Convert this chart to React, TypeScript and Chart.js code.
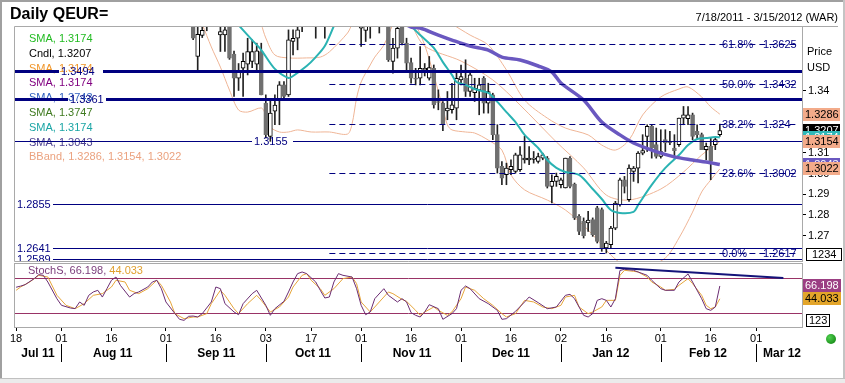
import React, { useEffect, useRef } from "react";
import { Chart, registerables } from "chart.js";

Chart.register(...registerables);

const FONT = '"Liberation Sans", Arial, Helvetica, sans-serif';

// ---- axes (x = weekday index, 0 = Mon 18 Jul 2011) ----
const X_MIN = -0.24;
const X_MAX = 173.1;
const PRICE_MIN = 1.25783;
const PRICE_MAX = 1.3706;
const STOCH_MIN = -4.8;
const STOCH_MAX = 104.2;

const priceTickValues = [1.26, 1.27, 1.28, 1.29, 1.3, 1.31, 1.34];
const dayTicks = [0, 10, 21, 33, 44, 55, 65, 76, 87, 98, 109, 120, 130, 142, 153, 163];
const dayTickLabels = ["18", "01", "16", "01", "16", "03", "17", "01", "16", "01", "16", "02", "16", "01", "16", "01"];
const monthLabels = ["Jul 11", "Aug 11", "Sep 11", "Oct 11", "Nov 11", "Dec 11", "Jan 12", "Feb 12", "Mar 12"];
const monthLabelPos = [4.8, 21.3, 44.1, 65.4, 87.2, 109, 131, 152.4, 168.7];
const monthStarts = [10, 33, 55, 76, 98, 120, 142, 163];

// ---- candles ----
const candleDay = [39, 40, 41, 42, 45, 46, 47, 48, 49, 50, 51, 52, 53, 54, 55, 56, 57, 58, 59, 60, 61, 62, 63, 66, 68, 76, 77, 78, 80, 82, 83, 84, 85, 86, 87, 88, 89, 90, 91, 92, 93, 94, 95, 96, 97, 98, 99, 100, 101, 102, 103, 104, 105, 106, 107, 108, 109, 110, 111, 112, 113, 114, 115, 116, 117, 118, 119, 120, 121, 122, 123, 124, 125, 126, 127, 128, 129, 130, 131, 132, 133, 134, 135, 136, 137, 138, 139, 140, 141, 142, 143, 144, 145, 146, 147, 148, 149, 150, 151, 152, 153, 154, 155];
const candleOpen = [1.3740, 1.3564, 1.3665, 1.3760, 1.3668, 1.3668, 1.3730, 1.3575, 1.3459, 1.3507,
  1.3527, 1.3540, 1.3527, 1.3588, 1.3339, 1.3179, 1.3300, 1.3355, 1.3427, 1.3379,
  1.3636, 1.3652, 1.3740, 1.3790, 1.3780, 1.3700, 1.3690, 1.3740, 1.3790, 1.3810,
  1.3540, 1.3604, 1.3740, 1.3628, 1.3535, 1.3460, 1.3459, 1.3499, 1.3459, 1.3507,
  1.3345, 1.3339, 1.3302, 1.3307, 1.3315, 1.3451, 1.3459, 1.3395, 1.3390, 1.3403,
  1.3459, 1.3339, 1.3379, 1.3187, 1.3034, 1.2994, 1.3018, 1.3010, 1.3018, 1.3066,
  1.3066, 1.3068, 1.3058, 1.3074, 1.3074, 1.2938, 1.2962, 1.2946, 1.2930, 1.3074,
  1.2949, 1.2794, 1.2770, 1.2762, 1.2778, 1.2834, 1.2826, 1.2641, 1.2657, 1.2737,
  1.2850, 1.2970, 1.2874, 1.3010, 1.3026, 1.3098, 1.3179, 1.3227, 1.3139, 1.3082,
  1.3163, 1.3150, 1.3123, 1.3139, 1.3267, 1.3264, 1.3283, 1.3203, 1.3187, 1.3115,
  1.3131, 1.3139, 1.3187];
const candleHigh = [1.3760, 1.3720, 1.3720, 1.3790, 1.3715, 1.3720, 1.3750, 1.3590, 1.3530, 1.3580,
  1.3652, 1.3644, 1.3628, 1.3628, 1.3379, 1.3355, 1.3379, 1.3443, 1.3443, 1.3692,
  1.3692, 1.3720, 1.3790, 1.3820, 1.3830, 1.3790, 1.3800, 1.3800, 1.3820, 1.3830,
  1.3652, 1.3720, 1.3760, 1.3652, 1.3556, 1.3507, 1.3612, 1.3530, 1.3564, 1.3523,
  1.3403, 1.3347, 1.3395, 1.3435, 1.3483, 1.3523, 1.3548, 1.3483, 1.3459, 1.3459,
  1.3467, 1.3435, 1.3387, 1.3235, 1.3058, 1.3050, 1.3066, 1.3098, 1.3130, 1.3179,
  1.3130, 1.3106, 1.3098, 1.3098, 1.3082, 1.2994, 1.3002, 1.2978, 1.3074, 1.3082,
  1.2954, 1.2802, 1.2786, 1.2818, 1.2786, 1.2842, 1.2834, 1.2673, 1.2745, 1.2866,
  1.2978, 1.2986, 1.3042, 1.3034, 1.3106, 1.3187, 1.3235, 1.3235, 1.3219, 1.3211,
  1.3211, 1.3203, 1.3187, 1.3267, 1.3323, 1.3323, 1.3291, 1.3235, 1.3195, 1.3147,
  1.3171, 1.3171, 1.3238];
const candleLow = [1.3645, 1.3499, 1.3655, 1.3688, 1.3588, 1.3588, 1.3550, 1.3371, 1.3400, 1.3371,
  1.3475, 1.3510, 1.3500, 1.3379, 1.3171, 1.3155, 1.3235, 1.3235, 1.3360, 1.3371,
  1.3572, 1.3596, 1.3684, 1.3652, 1.3652, 1.3612, 1.3636, 1.3652, 1.3677, 1.3540,
  1.3483, 1.3556, 1.3620, 1.3499, 1.3435, 1.3427, 1.3427, 1.3470, 1.3450, 1.3315,
  1.3307, 1.3206, 1.3259, 1.3291, 1.3259, 1.3427, 1.3371, 1.3371, 1.3347, 1.3283,
  1.3291, 1.3291, 1.3163, 1.3002, 1.2946, 1.2946, 1.2994, 1.3002, 1.3010, 1.3050,
  1.3042, 1.3050, 1.3050, 1.3066, 1.2930, 1.2858, 1.2938, 1.2930, 1.2930, 1.2930,
  1.2778, 1.2705, 1.2689, 1.2721, 1.2697, 1.2665, 1.2625, 1.2617, 1.2641, 1.2729,
  1.2842, 1.2906, 1.2866, 1.2962, 1.2954, 1.3090, 1.3106, 1.3074, 1.3074, 1.3074,
  1.3106, 1.3139, 1.3074, 1.3131, 1.3235, 1.3235, 1.3163, 1.3163, 1.3115, 1.3066,
  1.2970, 1.3115, 1.3179];
const candleClose = [1.3652, 1.3671, 1.3690, 1.3720, 1.3684, 1.3692, 1.3556, 1.3459, 1.3491, 1.3540,
  1.3588, 1.3588, 1.3591, 1.3379, 1.3187, 1.3291, 1.3330, 1.3427, 1.3371, 1.3644,
  1.3652, 1.3692, 1.3760, 1.3740, 1.3760, 1.3760, 1.3740, 1.3780, 1.3760, 1.3548,
  1.3604, 1.3700, 1.3628, 1.3532, 1.3459, 1.3455, 1.3507, 1.3507, 1.3510, 1.3331,
  1.3342, 1.3235, 1.3315, 1.3331, 1.3459, 1.3467, 1.3395, 1.3475, 1.3411, 1.3427,
  1.3339, 1.3395, 1.3187, 1.3026, 1.2978, 1.3026, 1.3034, 1.3090, 1.3090, 1.3074,
  1.3074, 1.3074, 1.3082, 1.3090, 1.2938, 1.2962, 1.2986, 1.2970, 1.3074, 1.2938,
  1.2786, 1.2721, 1.2700, 1.2775, 1.2705, 1.2673, 1.2641, 1.2665, 1.2737, 1.2858,
  1.2970, 1.2938, 1.3026, 1.3026, 1.3098, 1.3110, 1.3227, 1.3123, 1.3082, 1.3106,
  1.3147, 1.3155, 1.3110, 1.3267, 1.3283, 1.3283, 1.3179, 1.3187, 1.3115, 1.3131,
  1.3058, 1.3163, 1.3207];

// ---- moving averages / bands (null = off the top of the chart) ----
const smaFastDay = [49, 52, 54, 57, 60, 61, 64, 66, 68, 70, 78, 87, 89, 92, 94, 96, 97, 99, 101, 104, 106, 108, 110, 112, 115, 117, 119, 121, 124, 127, 129, 131, 133, 136, 137, 140, 143, 146, 148, 150, 152, 154, 155];
const smaFastVal = [1.3715, 1.3643, 1.3595, 1.3504, 1.3460, 1.3470, 1.3518, 1.3561, 1.3614, 1.3711, null, 1.3711, 1.3667, 1.3605, 1.3537, 1.3475, 1.3441, 1.3427, 1.3407, 1.3388, 1.3345, 1.3296, 1.3248, 1.3186, 1.3123, 1.3065, 1.3027, 1.3007, 1.2993, 1.2925, 1.2877, 1.2824, 1.2810, 1.2815, 1.2848, 1.2945, 1.3027, 1.3089, 1.3137, 1.3166, 1.3171, 1.3176, 1.3174];
const smaSlowDay = [85, 87, 89, 93, 96, 100, 104, 107, 111, 115, 118, 120, 125, 129, 133, 136, 140, 145, 149, 152, 155];
const smaSlowVal = [1.3730, 1.3706, 1.3701, 1.3667, 1.3643, 1.3614, 1.3595, 1.3561, 1.3547, 1.3518, 1.3489, 1.3436, 1.3354, 1.3248, 1.3186, 1.3147, 1.3113, 1.3080, 1.3065, 1.3055, 1.3043];
const bbUpperDay = [96, 100, 104, 108, 112, 117, 121, 126, 129, 132, 135, 138, 142, 146, 148, 151, 153, 155];
const bbUpperVal = [1.3720, 1.3667, 1.3619, 1.3499, 1.3354, 1.3267, 1.3219, 1.3186, 1.3137, 1.3113, 1.3161, 1.3282, 1.3369, 1.3407, 1.3417, 1.3369, 1.3321, 1.3286];
const bbMidDay = [54, 55, 57, 60, 64, 67, 69, 73, 74, 80, 87, 90, 98, 105, 111, 119, 125, 130, 135, 142, 147, 151, 155];
const bbMidVal = [1.3720, 1.3653, 1.3571, 1.3557, 1.3557, 1.3561, 1.3586, 1.3677, 1.3720, null, 1.3720, 1.3614, 1.3542, 1.3451, 1.3330, 1.3152, 1.3027, 1.2896, 1.2872, 1.2925, 1.3007, 1.3089, 1.3154];
const bbLowDay = [41, 43, 45, 47, 49, 51, 54, 55, 56, 58, 60, 62, 65, 69, 73, 74, 75, 76, 78, 79, 81, 83, 85, 88, 90, 92, 94, 95, 96, 99, 101, 104, 107, 109, 112, 117, 121, 126, 131, 134, 138, 143, 146, 149, 151, 153, 155];
const bbLowVal = [1.3720, 1.3610, 1.3513, 1.3402, 1.3306, 1.3296, 1.3316, 1.3282, 1.3224, 1.3200, 1.3200, 1.3210, 1.3200, 1.3200, 1.3190, 1.3239, 1.3364, 1.3441, 1.3523, 1.3561, 1.3619, 1.3720, null, 1.3720, 1.3619, 1.3475, 1.3316, 1.3234, 1.3210, 1.3200, 1.3195, 1.3161, 1.3113, 1.2993, 1.2921, 1.2872, 1.2824, 1.2728, 1.2607, 1.2559, 1.2545, 1.2593, 1.2689, 1.2814, 1.2911, 1.2969, 1.3022];

// ---- horizontal levels ----
const levelValues = [1.3494, 1.3361, 1.3155, 1.2855, 1.2641, 1.2589];
const fibStartDay = 69;
const fibValues = [1.3625, 1.3432, 1.324, 1.3002, 1.2617];
const fibLabels = ["61.8%", "50.0%", "38.2%", "23.6%", "0.0%"];
const fibValueLabels = ["1.3625", "1.3432", "1.324", "1.3002", "1.2617"];

// ---- legend / last-value tags ----
const legendLabels = ["SMA, 1.3174", "Cndl, 1.3207", "SMA, 1.3174", "SMA, 1.3174", "SMA, 1.3743", "SMA, 1.3747", "SMA, 1.3174", "SMA, 1.3043", "BBand, 1.3286, 1.3154, 1.3022"];
const tagValues = [1.3286, 1.3207, 1.3174, 1.3154, 1.3043, 1.3022];

// ---- stochastic ----
const stochKDay = [0, 1, 2, 4, 5, 6, 7, 9, 10, 12, 13, 14, 15, 16, 17, 18, 19, 20, 21, 22, 23, 25, 26, 27, 29, 30, 31, 32, 33, 35, 36, 37, 38, 39, 40, 41, 43, 44, 45, 46, 48, 49, 50, 52, 53, 55, 56, 57, 59, 60, 61, 62, 63, 64, 66, 67, 68, 69, 70, 71, 72, 74, 75, 76, 77, 78, 79, 81, 82, 84, 85, 86, 87, 88, 89, 90, 91, 93, 94, 96, 97, 98, 99, 100, 102, 104, 106, 107, 108, 110, 112, 113, 115, 117, 119, 121, 122, 123, 125, 126, 127, 128, 129, 130, 131, 132, 133, 134, 136, 137, 139, 140, 142, 143, 145, 146, 148, 149, 151, 152, 153, 154, 155];
const stochKVal = [64, 66, 68.5, 79, 85.8, 84.6, 73, 44, 32.7, 28, 27, 38.5, 32.7, 50, 55.8, 58.7, 47, 61.5, 76, 81.7, 67, 47, 53, 55.8, 64.4, 73, 76, 61.5, 38.5, 18.3, 8.5, 6.7, 13.7, 14.2, 12.5, 18.3, 38.5, 64.4, 61.5, 35.6, 21.2, 16.5, 35.6, 52.9, 58.7, 32.7, 15.4, 26.9, 39.6, 55.8, 73.1, 87.5, 90.4, 87.5, 73.1, 58.7, 45.4, 47.1, 73.1, 87.5, 84.6, 81.7, 61.5, 32.7, 16.5, 21.2, 44.2, 61.5, 50, 38.5, 44.2, 38.5, 20, 15.4, 12.5, 21.2, 33.8, 26.9, 8.5, 18.3, 26.9, 58.7, 66.2, 61.5, 44.2, 35.6, 24, 8.5, 9.6, 22.3, 38.5, 47.1, 37.3, 26.9, 29.8, 50, 51.7, 44.2, 15.4, 12.5, 18.3, 41.3, 44.2, 41.3, 29.8, 44.2, 93, 95, 93.3, 90.4, 84.6, 76, 61.5, 58.7, 58.7, 73.1, 87, 73, 44.2, 26.9, 24, 29.8, 66.198];
const stochDDay = [0, 1, 3, 5, 7, 9, 11, 13, 15, 17, 19, 21, 22, 24, 25, 27, 29, 31, 32, 34, 35, 37, 39, 40, 42, 43, 45, 46, 48, 49, 51, 53, 54, 56, 58, 60, 61, 63, 64, 65, 67, 68, 70, 72, 74, 75, 76, 78, 79, 82, 83, 85, 86, 88, 89, 90, 92, 93, 95, 96, 98, 99, 101, 103, 105, 107, 108, 110, 111, 112, 114, 116, 118, 120, 121, 123, 124, 126, 127, 129, 130, 132, 133, 134, 136, 137, 139, 140, 142, 143, 145, 146, 148, 149, 151, 152, 153, 154, 155];
const stochDVal = [58.7, 64.4, 73.1, 84.6, 81.7, 50, 32.7, 26.9, 35.6, 50, 52.9, 64.4, 76, 73.1, 58.7, 52.9, 61.5, 76, 67.3, 38.5, 18, 9.6, 12.5, 12.5, 18.3, 35.6, 58.7, 50, 26.9, 18.3, 35.6, 50, 41.3, 21.2, 29.8, 47.1, 64.4, 84.6, 87.5, 76, 61.5, 50, 61.5, 78.9, 81.7, 70.2, 38.5, 21.2, 29.8, 55.8, 52.9, 43, 39.6, 24, 15.4, 21.2, 29.8, 24, 15.4, 21.2, 44.2, 64.4, 58.7, 44.2, 32.7, 18.3, 12.5, 18.3, 29.8, 41.3, 38.5, 29.8, 26.9, 32.7, 47.1, 50, 29.8, 18.3, 21.2, 29.8, 41.3, 41.3, 84.6, 93.3, 91.5, 90.4, 81.7, 73.1, 64.4, 58.7, 60.4, 67.3, 78.9, 70.2, 50, 32.7, 26.9, 29.8, 44.033];
const stochLevels = [80, 20];
const stochTrendDay = [132, 169];
const stochTrendVal = [97.5, 80];

// ---------------------------------------------------------------
const NAVY = "#000080";
const FRAME = "#a9a9a9";
const pts = (xs: number[], ys: (number | null)[]) => xs.map((x, k) => ({ x, y: ys[k] }));

const legendColors = ["#22bb22", "#000000", "#f0962a", "#800080", "#2f5fbf", "#3f7a1f", "#1aa5a5", "#4b3f8f", "#eba27f"];
const tagStyles = [
  { bg: "#f3ab8a", fg: "#000" },
  { bg: "#000000", fg: "#fff" },
  { bg: "#2fb8b8", fg: "#fff" },
  { bg: "#f3ab8a", fg: "#000" },
  { bg: "#6a58c0", fg: "#fff" },
  { bg: "#f3ab8a", fg: "#000" },
];
const levelWidths = [3, 3, 1, 1, 1, 1];
const levelGaps = [[59, 103], [68, 106], [252, 293], [15, 53], [15, 53], [15, 53]];

const noPad = (s: any) => {
  s.paddingTop = 0;
  s.paddingBottom = 0;
  s.paddingLeft = 0;
  s.paddingRight = 0;
};

const mainDecor = {
  id: "mainDecor",
  beforeDatasetsDraw(chart: any) {
    const { ctx } = chart;
    ctx.save();
    ctx.font = `11px ${FONT}`;
    ctx.textBaseline = "middle";
    legendLabels.forEach((t, k) => {
      ctx.fillStyle = legendColors[k];
      ctx.fillText(t, 29, 39 + k * 14.8);
    });
    ctx.restore();
  },
  afterDatasetsDraw(chart: any) {
    const { ctx, chartArea: a, scales } = chart;
    const ys = scales.y;
    const xs = scales.x;
    ctx.save();
    ctx.beginPath();
    ctx.rect(a.left, a.top, a.right - a.left, a.bottom - a.top);
    ctx.clip();
    ctx.font = `11px ${FONT}`;
    ctx.textBaseline = "middle";
    const fx = xs.getPixelForValue(fibStartDay);
    fibValues.forEach((v, k) => {
      const py = Math.round(ys.getPixelForValue(v)) + 0.5;
      ctx.strokeStyle = NAVY;
      ctx.lineWidth = 1;
      ctx.setLineDash([6, 4]);
      ctx.beginPath();
      ctx.moveTo(fx, py);
      ctx.lineTo(a.right - 4, py);
      ctx.stroke();
      ctx.fillStyle = NAVY;
      ctx.fillText(fibLabels[k], 722, py);
      ctx.fillText(fibValueLabels[k], 763, py);
    });
    ctx.setLineDash([]);
    levelValues.forEach((v, k) => {
      const w = levelWidths[k];
      const raw = ys.getPixelForValue(v);
      const py = w % 2 ? Math.round(raw) + 0.5 : Math.round(raw);
      const g = levelGaps[k];
      ctx.strokeStyle = NAVY;
      ctx.lineWidth = w;
      ctx.beginPath();
      if (g[0] > a.left) {
        ctx.moveTo(a.left, py);
        ctx.lineTo(g[0], py);
      }
      ctx.moveTo(g[1], py);
      ctx.lineTo(a.right, py);
      ctx.stroke();
      ctx.fillStyle = NAVY;
      ctx.fillText(v.toFixed(4), g[0] + 2, py);
    });
    ctx.restore();
    ctx.save();
    ctx.strokeStyle = FRAME;
    ctx.lineWidth = 1;
    ctx.beginPath();
    ctx.moveTo(a.left - 0.5, a.bottom + 0.5);
    ctx.lineTo(a.left - 0.5, a.top - 0.5);
    ctx.lineTo(838, a.top - 0.5);
    ctx.moveTo(a.left - 0.5, a.bottom + 0.5);
    ctx.lineTo(a.right, a.bottom + 0.5);
    ctx.stroke();
    ctx.restore();
  },
  afterDraw(chart: any) {
    const { ctx, chartArea: a, scales } = chart;
    const ys = scales.y;
    ctx.save();
    ctx.font = `11px ${FONT}`;
    ctx.textBaseline = "middle";
    ctx.fillStyle = "#000";
    ctx.fillText("Price", a.right + 5, 52);
    ctx.fillText("USD", a.right + 5, 68);
    tagValues.forEach((v, k) => {
      const py = ys.getPixelForValue(v);
      ctx.fillStyle = tagStyles[k].bg;
      ctx.fillRect(a.right + 1, Math.round(py - 6.5), 37, 13);
      ctx.fillStyle = tagStyles[k].fg;
      ctx.fillText(v.toFixed(4), a.right + 3, py + 0.5);
    });
    ctx.fillStyle = "#fff";
    ctx.fillRect(a.right + 4, 248, 36, 13);
    ctx.strokeStyle = "#000";
    ctx.lineWidth = 1;
    ctx.strokeRect(a.right + 4.5, 248.5, 35, 12);
    ctx.fillStyle = "#000";
    ctx.fillText("1234", a.right + 10, 255);
    ctx.restore();
  },
};

const stochDecor = {
  id: "stochDecor",
  beforeDatasetsDraw(chart: any) {
    const { ctx, chartArea: a, scales } = chart;
    const ys = scales.y;
    ctx.save();
    ctx.strokeStyle = "#993366";
    ctx.lineWidth = 1;
    stochLevels.forEach((v) => {
      const py = Math.round(ys.getPixelForValue(v)) + 0.5;
      ctx.beginPath();
      ctx.moveTo(a.left, py);
      ctx.lineTo(a.right, py);
      ctx.stroke();
    });
    ctx.font = `11px ${FONT}`;
    ctx.textBaseline = "middle";
    const first = "StochS, " + stochKVal[stochKVal.length - 1].toFixed(3) + ", ";
    ctx.fillStyle = "#7b3d7b";
    ctx.fillText(first, 28, a.top + 7);
    ctx.fillStyle = "#e0a030";
    ctx.fillText(stochDVal[stochDVal.length - 1].toFixed(3), 28 + ctx.measureText(first).width, a.top + 7);
    ctx.restore();
  },
  afterDraw(chart: any) {
    const { ctx, chartArea: a, scales } = chart;
    const ys = scales.y;
    const xs = scales.x;
    ctx.save();
    ctx.strokeStyle = FRAME;
    ctx.lineWidth = 1;
    ctx.strokeRect(a.left - 0.5, a.top - 0.5, a.right - a.left + 1, a.bottom - a.top + 1);
    ctx.font = `11px ${FONT}`;
    ctx.textBaseline = "middle";
    const kv = stochKVal[stochKVal.length - 1];
    const dv = stochDVal[stochDVal.length - 1];
    const ky = ys.getPixelForValue(kv);
    const dy = ys.getPixelForValue(dv);
    ctx.fillStyle = "#9b3f83";
    ctx.fillRect(a.right + 1, Math.round(ky - 6.5), 38, 13);
    ctx.fillStyle = "#fff";
    ctx.fillText(kv.toFixed(3), a.right + 3, ky + 0.5);
    ctx.fillStyle = "#e3a52a";
    ctx.fillRect(a.right + 1, Math.round(dy - 6.5), 38, 13);
    ctx.fillStyle = "#000";
    ctx.fillText(dv.toFixed(3), a.right + 3, dy + 0.5);
    ctx.fillStyle = "#fff";
    ctx.fillRect(a.right + 4, a.bottom - 13, 24, 13);
    ctx.strokeStyle = "#000";
    ctx.strokeRect(a.right + 4.5, a.bottom - 12.5, 23, 12);
    ctx.fillStyle = "#000";
    ctx.fillText("123", a.right + 7, a.bottom - 6);
    ctx.font = `bold 12px ${FONT}`;
    ctx.textAlign = "center";
    monthLabels.forEach((m, k) => {
      ctx.fillText(m, xs.getPixelForValue(monthLabelPos[k]), a.bottom + 27);
    });
    ctx.strokeStyle = "#000";
    monthStarts.forEach((d) => {
      const px = Math.round(xs.getPixelForValue(d)) + 0.5;
      ctx.beginPath();
      ctx.moveTo(px, a.bottom + 17);
      ctx.lineTo(px, a.bottom + 35);
      ctx.stroke();
    });
    ctx.restore();
  },
};

function buildMain(canvas: HTMLCanvasElement) {
  const up = candleDay.map((_, k) => candleClose[k] >= candleOpen[k]);
  const bodies = candleDay.map((d, k) => ({ x: d, y: [candleOpen[k], candleClose[k]] }));
  const wicks = candleDay.map((d, k) => ({ x: d, y: [candleLow[k], candleHigh[k]] }));
  const line = (data: any, color: string, width: number, order: number) => ({
    type: "line",
    data,
    borderColor: color,
    borderWidth: width,
    pointRadius: 0,
    tension: 0.3,
    spanGaps: false,
    clip: 0,
    order,
  });
  return new Chart(canvas, {
    type: "bar",
    data: {
      datasets: [
        line(pts(bbUpperDay, bbUpperVal), "#efb596", 1, 3),
        line(pts(bbMidDay, bbMidVal), "#efb596", 1, 3),
        line(pts(bbLowDay, bbLowVal), "#efb596", 1, 3),
        {
          type: "bar",
          data: wicks,
          grouped: false,
          barThickness: 1,
          backgroundColor: "#222",
          borderWidth: 0,
          clip: 0,
          order: 2,
        },
        {
          type: "bar",
          data: bodies,
          grouped: false,
          barThickness: 4,
          backgroundColor: up.map((u) => (u ? "#ffffff" : "#707070")),
          borderColor: up.map((u) => (u ? "#000000" : "#707070")),
          borderWidth: 1,
          borderSkipped: false,
          minBarLength: 1,
          clip: 0,
          order: 1,
        },
        line(pts(smaSlowDay, smaSlowVal), "#6a58c0", 3.5, 0),
        line(pts(smaFastDay, smaFastVal), "#2ab3b3", 2, 0),
      ] as any,
    },
    options: {
      responsive: false,
      animation: false,
      events: [],
      layout: { padding: { left: 15, top: 27, right: 0, bottom: 2 } },
      plugins: { legend: { display: false }, tooltip: { enabled: false } },
      scales: {
        x: { type: "linear", display: false, min: X_MIN, max: X_MAX, offset: false, grid: { offset: false } },
        y: {
          type: "linear",
          position: "right",
          min: PRICE_MIN,
          max: PRICE_MAX,
          afterFit: (s: any) => {
            s.width = 43;
            noPad(s);
          },
          ticks: {
            stepSize: 0.01,
            padding: 2,
            color: "#000",
            font: { family: FONT, size: 11 },
            callback: (v: any) => {
              const hit = priceTickValues.find((t) => Math.abs(t - v) < 1e-6);
              return hit === undefined ? null : hit.toFixed(2);
            },
          },
          grid: { drawOnChartArea: false, tickLength: 4, tickColor: "#000", color: "#000" },
          border: { display: true, color: FRAME },
        },
      },
    } as any,
    plugins: [mainDecor],
  });
}

function buildStoch(canvas: HTMLCanvasElement) {
  return new Chart(canvas, {
    type: "line",
    data: {
      datasets: [
        { data: pts(stochTrendDay, stochTrendVal), borderColor: "#14147a", borderWidth: 2, pointRadius: 0, clip: 0 },
        { data: pts(stochKDay, stochKVal), borderColor: "#6b2d72", borderWidth: 1, pointRadius: 0, tension: 0, clip: 0 },
        { data: pts(stochDDay, stochDVal), borderColor: "#e6a53a", borderWidth: 1, pointRadius: 0, tension: 0, clip: 0 },
      ] as any,
    },
    options: {
      responsive: false,
      animation: false,
      events: [],
      layout: { padding: { left: 15, top: 2, right: 0, bottom: 0 } },
      plugins: { legend: { display: false }, tooltip: { enabled: false } },
      scales: {
        x: {
          type: "linear",
          position: "bottom",
          min: X_MIN,
          max: X_MAX,
          offset: false,
          afterFit: (s: any) => {
            s.height = 56;
            noPad(s);
          },
          afterBuildTicks: (s: any) => {
            s.ticks = dayTicks.map((v) => ({ value: v }));
          },
          ticks: {
            autoSkip: false,
            maxRotation: 0,
            padding: 1,
            color: "#000",
            font: { family: FONT, size: 11 },
            callback: (_v: any, i: number) => dayTickLabels[i],
          },
          grid: { drawOnChartArea: false, tickLength: 4, tickColor: "#000", color: "#000" },
          border: { display: false },
        },
        y: {
          type: "linear",
          position: "right",
          min: STOCH_MIN,
          max: STOCH_MAX,
          afterFit: (s: any) => {
            s.width = 43;
            noPad(s);
          },
          ticks: { display: false },
          grid: { drawOnChartArea: false, drawTicks: false },
          border: { display: true, color: FRAME },
        },
      },
    } as any,
    plugins: [stochDecor],
  });
}

export default function App() {
  const mainRef = useRef<HTMLCanvasElement>(null);
  const stochRef = useRef<HTMLCanvasElement>(null);
  useEffect(() => {
    document.body.style.margin = "0";
    const c1 = buildMain(mainRef.current as HTMLCanvasElement);
    const c2 = buildStoch(stochRef.current as HTMLCanvasElement);
    return () => {
      c1.destroy();
      c2.destroy();
    };
  }, []);
  return (
    <div style={{ position: "fixed", left: 0, top: 0, width: 845, height: 383, background: "#fff", overflow: "hidden", fontFamily: FONT }}>
      <canvas ref={mainRef} width={845} height={263} style={{ position: "absolute", left: 0, top: 0, width: 845, height: 263 }} />
      <canvas ref={stochRef} width={845} height={121} style={{ position: "absolute", left: 0, top: 262, width: 845, height: 121 }} />
      <div style={{ position: "absolute", left: 10, top: 5, font: `bold 16px ${FONT}`, lineHeight: "18px", color: "#000" }}>Daily QEUR=</div>
      <div style={{ position: "absolute", right: 7, top: 10, font: `11px ${FONT}`, lineHeight: "14px", color: "#000" }}>7/18/2011 - 3/15/2012 (WAR)</div>
      <div style={{ position: "absolute", left: 826, top: 334, width: 10, height: 10, borderRadius: "50%", background: "radial-gradient(circle at 35% 35%, #4fd04f, #0a7a0a)" }} />
      <div style={{ position: "absolute", left: 0, top: 0, width: 845, height: 2, background: "#a0a0a0" }} />
      <div style={{ position: "absolute", left: 0, top: 0, width: 2, height: 383, background: "#a0a0a0" }} />
      <div style={{ position: "absolute", left: 843, top: 0, width: 2, height: 383, background: "#c4c4c4" }} />
      <div style={{ position: "absolute", left: 0, top: 378, width: 845, height: 5, background: "#ebebeb", borderTop: "1px solid #c0c0c0" }} />
    </div>
  );
}
